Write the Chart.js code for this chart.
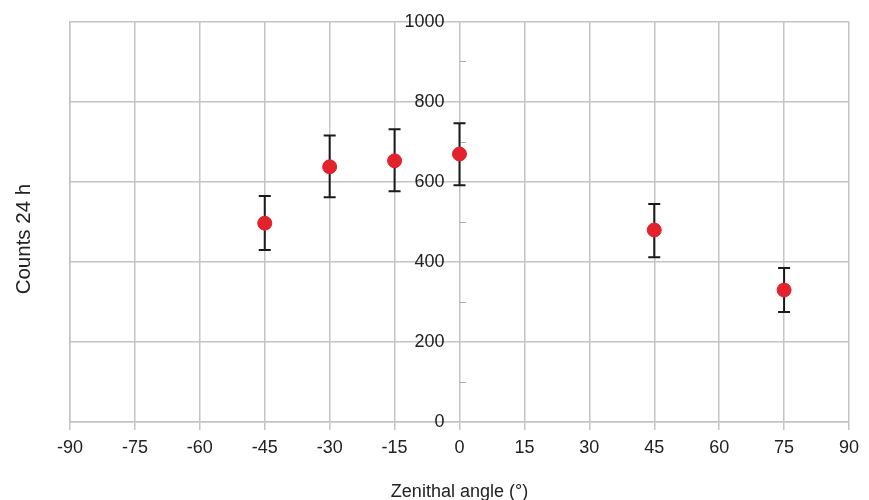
<!DOCTYPE html>
<html>
<head>
<meta charset="utf-8">
<script src="https://cdn.jsdelivr.net/npm/chart.js@4/dist/chart.umd.min.js"></script>
<style>
  html, body { margin: 0; padding: 0; background: #fff; }
  #wrap { width: 869px; height: 500px; }
</style>
</head>
<body>
<div id="wrap"><canvas id="chart"></canvas></div>
<script>
// Data
const angles = [-45, -30, -15, 0, 45, 75];
const counts = [497, 638, 653, 670, 480, 330];
const upper = [565, 716, 732, 747, 545, 385];
const lower = [430, 562, 577, 592, 412, 275];

const GRID = '#c4c4c4';
const TEXT = '#222';

// error bars drawn through the chart scales, under the points
const errorBars = {
    id: 'errorBars',
    beforeDatasetsDraw(chart) {
        const x = chart.scales.x, y = chart.scales.y;
        const c = chart.ctx;
        c.save();
        c.strokeStyle = '#1a1a1a';
        c.lineWidth = 2;
        angles.forEach((a, i) => {
            const px = x.getPixelForValue(a);
            const top = y.getPixelForValue(upper[i]);
            const bot = y.getPixelForValue(lower[i]);
            c.beginPath();
            c.moveTo(px, top); c.lineTo(px, bot);
            c.moveTo(px - 6, top); c.lineTo(px + 6, top);
            c.moveTo(px - 6, bot); c.lineTo(px + 6, bot);
            c.stroke();
        });
        c.restore();
    }
};

const ctx = document.getElementById('chart').getContext('2d');
new Chart(ctx, {
    type: 'scatter',
    data: {
        datasets: [{
            data: angles.map((a, i) => ({ x: a, y: counts[i] })),
            backgroundColor: '#e3222c',
            borderColor: '#e3222c',
            pointRadius: 7,
            pointHoverRadius: 7
        }]
    },
    options: {
        responsive: true,
        maintainAspectRatio: false,
        animation: false,
        layout: { padding: { top: 22, right: 20, bottom: 0, left: 0 } },
        plugins: {
            legend: { display: false },
            tooltip: { enabled: false }
        },
        scales: {
            x: {
                type: 'linear',
                min: -90, max: 90,
                afterFit: s => { s.height = 78; },
                grid: { color: GRID, lineWidth: 1.5, tickLength: 8 },
                border: { color: GRID, width: 1.5 },
                ticks: {
                    stepSize: 15,
                    color: TEXT,
                    padding: 7,
                    font: { family: 'Liberation Sans', size: 18 }
                },
                title: {
                    display: true,
                    text: 'Zenithal angle (°)',
                    color: TEXT,
                    padding: { top: 0, bottom: -3 },
                    font: { family: 'Liberation Sans', size: 18 }
                }
            },
            y: {
                min: 0, max: 1000,
                position: 'left',
                afterFit: s => { s.width = 70; },
                grid: { color: GRID, lineWidth: 1.5, tickLength: 0 },
                border: { color: GRID, width: 1.5 },
                ticks: { stepSize: 200, display: false },
                title: {
                    display: true,
                    text: 'Counts 24 h      ',
                    color: TEXT,
                    padding: { top: 12, bottom: 0 },
                    font: { family: 'Liberation Sans', size: 20.5 }
                }
            },
            y2: {
                min: 0, max: 1000,
                position: { x: 0 },
                grid: {
                    drawOnChartArea: false,
                    tickLength: -6,
                    color: c => (c.tick && c.tick.value % 200 !== 0 ? '#aaa' : 'rgba(0,0,0,0)')
                },
                border: { display: false },
                ticks: {
                    stepSize: 100,
                    color: TEXT,
                    padding: 0,
                    font: { family: 'Liberation Sans', size: 18 },
                    callback: v => (v % 200 === 0 ? v + '   ' : '')
                }
            }
        }
    },
    plugins: [errorBars]
});
</script>
</body>
</html>
